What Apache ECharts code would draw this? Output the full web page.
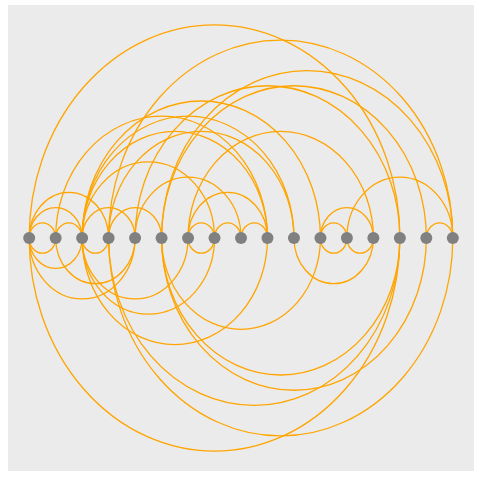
<!DOCTYPE html>
<html>
<head>
<meta charset="utf-8">
<script src="https://cdn.jsdelivr.net/npm/echarts@6/dist/echarts.min.js"></script>
<style>html,body{margin:0;padding:0;background:#fff}#main{width:480px;height:480px}</style>
</head>
<body>
<div id="main"></div>
<script>
var nodes = [0, 1, 2, 3, 4, 5, 6, 7, 8, 9, 10, 11, 12, 13, 14, 15, 16];
// arcs drawn above the line: [from, to]
var arcsAbove = [[0,14],[3,16],[5,16],[4,14],[5,15],[2,11],[1,9],[2,10],[2,9],[3,10],[6,13],
  [2,7],[4,8],[12,16],[0,3],[6,9],[0,2],[2,4],[3,5],[11,13],
  [0,1],[1,2],[6,7],[7,8],[8,9],[11,12],[15,16]];
// arcs drawn below the line
var arcsBelow = [[0,14],[3,16],[3,14],[5,15],[5,14],[2,9],[5,11],[2,7],[0,4],[2,6],
  [1,4],[10,13],[0,2],[0,1],[2,3],[6,7],[11,12],[12,13]];

var edgeData = arcsAbove.map(function (a) { return [a[0], a[1], 1]; })
  .concat(arcsBelow.map(function (a) { return [a[0], a[1], -1]; }));

var chart = echarts.init(document.getElementById('main'));
chart.setOption({
  backgroundColor: '#fff',
  animation: false,
  grid: { left: 8, right: 6, top: 5, bottom: 9, show: true, backgroundColor: '#ebebeb', borderWidth: 0 },
  xAxis: { type: 'value', min: -0.8, max: 16.8, show: false },
  yAxis: { type: 'value', min: -1, max: 1, show: false },
  series: [{
    type: 'custom',
    data: edgeData,
    renderItem: function (params, api) {
      var p1 = api.coord([api.value(0), 0]);
      var p2 = api.coord([api.value(1), 0]);
      var rx = Math.abs(p2[0] - p1[0]) / 2;
      var ry = rx * 1.15;
      var sweep = api.value(2) > 0 ? 1 : 0;
      return {
        type: 'path',
        shape: { pathData: 'M' + p1[0] + ' ' + p1[1] + ' A' + rx + ' ' + ry + ' 0 0 ' + sweep + ' ' + p2[0] + ' ' + p2[1] },
        style: { fill: null, stroke: '#FFA500', lineWidth: 1.3 }
      };
    },
    z: 1
  }, {
    type: 'scatter',
    data: nodes.map(function (n) { return [n, 0]; }),
    symbolSize: 12,
    itemStyle: { color: '#808080', opacity: 1 },
    z: 2
  }]
});
</script>
</body>
</html>
